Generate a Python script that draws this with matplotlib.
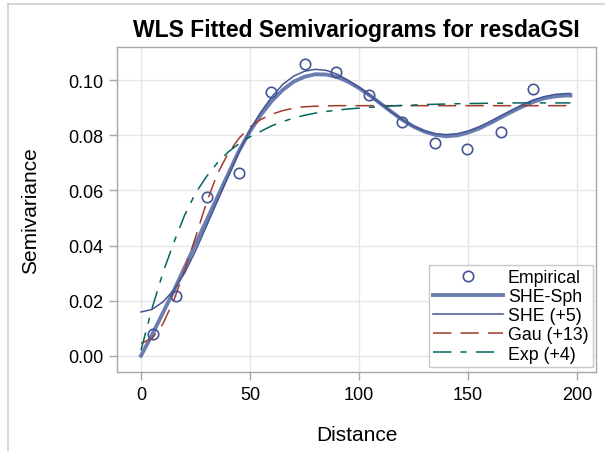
import matplotlib
matplotlib.use("Agg")
import matplotlib.pyplot as plt
from matplotlib.lines import Line2D

plt.rcParams['font.family'] = ['Liberation Sans', 'DejaVu Sans']

# Empirical semivariogram
emp_dist = [5.5, 16.0, 30.3, 45.0, 59.6, 75.2, 89.4, 104.6, 119.7, 134.9, 149.5, 165.0, 179.8]
emp_semi = [0.0079, 0.0216, 0.0575, 0.0662, 0.0959, 0.1060, 0.1032, 0.0948, 0.0850,
            0.0774, 0.0752, 0.0814, 0.0970]

# Fitted model curves (read at distances below)
fit_dist = [0, 5, 10, 15, 20, 25, 30, 35, 40, 45, 50, 55, 60, 65, 70, 75, 80, 85, 90, 95,
            100, 105, 110, 115, 120, 125, 130, 135, 140, 145, 150, 155, 160, 165, 170, 175,
            180, 185, 190, 195, 197]
she_sph = [0.0000, 0.0075, 0.0155, 0.0235, 0.0320, 0.0405, 0.0490, 0.0575, 0.0660, 0.0745,
           0.0815, 0.0875, 0.0925, 0.0965, 0.0995, 0.1013, 0.1022, 0.1021, 0.1012, 0.0995,
           0.0972, 0.0945, 0.0915, 0.0885, 0.0856, 0.0832, 0.0814, 0.0802, 0.0797, 0.0800,
           0.0810, 0.0825, 0.0844, 0.0865, 0.0886, 0.0905, 0.0922, 0.0935, 0.0942, 0.0945,
           0.0945]
she_5 = [0.0159, 0.0168, 0.0195, 0.0238, 0.0300, 0.0380, 0.0470, 0.0560, 0.0650, 0.0740,
         0.0820, 0.0885, 0.0940, 0.0985, 0.1015, 0.1033, 0.1040, 0.1036, 0.1022, 0.1000,
         0.0975, 0.0946, 0.0915, 0.0884, 0.0856, 0.0833, 0.0816, 0.0806, 0.0803, 0.0806,
         0.0816, 0.0831, 0.0850, 0.0871, 0.0892, 0.0912, 0.0929, 0.0941, 0.0949, 0.0952,
         0.0952]
gau_13 = [0.0045, 0.0062, 0.0115, 0.0200, 0.0310, 0.0430, 0.0555, 0.0660, 0.0735, 0.0790,
          0.0830, 0.0858, 0.0877, 0.0890, 0.0899, 0.0904, 0.0906, 0.0907, 0.0908, 0.0908,
          0.0908, 0.0908, 0.0908, 0.0908, 0.0908, 0.0908, 0.0908, 0.0908, 0.0908, 0.0908,
          0.0908, 0.0908, 0.0908, 0.0908, 0.0908, 0.0908, 0.0908, 0.0908, 0.0908, 0.0908,
          0.0908]
exp_4 = [0.0020, 0.0170, 0.0300, 0.0410, 0.0510, 0.0590, 0.0650, 0.0700, 0.0740, 0.0770,
         0.0795, 0.0815, 0.0835, 0.0850, 0.0863, 0.0873, 0.0881, 0.0887, 0.0892, 0.0896,
         0.0899, 0.0902, 0.0905, 0.0907, 0.0909, 0.0910, 0.0912, 0.0913, 0.0914, 0.0915,
         0.0916, 0.0916, 0.0917, 0.0917, 0.0918, 0.0918, 0.0918, 0.0918, 0.0918, 0.0918,
         0.0918]

x_ticks = [0, 50, 100, 150, 200]
y_ticks = [0.00, 0.02, 0.04, 0.06, 0.08, 0.10]

W, H = 605, 452
fig = plt.figure(figsize=(W / 100, H / 100), dpi=100)
ax = fig.add_axes([117 / W, 1 - 373 / H, (596 - 117) / W, (373 - 48) / H])

c_blue = '#445694'
c_sph = '#6C7DB0'
c_red = '#A23A2E'
c_teal = '#01665E'

ax.plot(fit_dist, she_sph, color=c_sph, lw=2.8, label='SHE-Sph', zorder=3)
ax.plot(fit_dist, she_5, color=c_blue, lw=1.1, label='SHE (+5)', zorder=4)
ax.plot(fit_dist, gau_13, color=c_red, lw=1.1, dashes=(12, 6), label='Gau (+13)', zorder=3)
ax.plot(fit_dist, exp_4, color=c_teal, lw=1.1, dashes=(12, 6, 4, 6), label='Exp (+4)', zorder=3)
ax.plot(emp_dist, emp_semi, linestyle='none', marker='o', markersize=7.5,
        markerfacecolor='none', markeredgecolor=c_blue, markeredgewidth=1.2,
        label='Empirical', zorder=5)

ax.set_xlim(-11, 208.7)
ax.set_ylim(-0.0059, 0.1121)
ax.set_xticks(x_ticks)
ax.set_yticks(y_ticks)
ax.set_yticklabels([f'{v:.2f}' for v in y_ticks])
ax.grid(True, color='#E6E6E6', lw=1.0, zorder=0)
ax.set_axisbelow(True)
for s in ax.spines.values():
    s.set_color('#A8A8A8')
    s.set_linewidth(1.0)
ax.tick_params(axis='both', colors='#A8A8A8', labelcolor='black', length=6, width=1.0,
               labelsize=13, pad=4)

ax.set_xlabel('Distance', fontsize=15, labelpad=16)
ax.set_ylabel('Semivariance', fontsize=15, labelpad=20)
ax.set_title('WLS Fitted Semivariograms for resdaGSI', fontsize=16.5, fontweight='bold', pad=8)

handles, labels = ax.get_legend_handles_labels()
order = [4, 0, 1, 2, 3]
leg = ax.legend([handles[i] for i in order], [labels[i] for i in order],
                loc='lower right', bbox_to_anchor=(593 / W, 1 - 368 / H),
                bbox_transform=fig.transFigure, borderaxespad=0, fontsize=12.8,
                handlelength=3.9, handletextpad=0.3, labelspacing=0.12,
                borderpad=0.25, fancybox=False, framealpha=1, edgecolor='#C8C8C8')
leg.get_frame().set_linewidth(1.0)

fig.add_artist(Line2D([8 / W, 8 / W], [0, 1 - 5 / H], transform=fig.transFigure,
                      color='#D0D0D0', lw=1.2))
fig.add_artist(Line2D([8 / W, 1], [1 - 5 / H, 1 - 5 / H], transform=fig.transFigure,
                      color='#D0D0D0', lw=1.2))

fig.savefig('out.png', dpi=100)
